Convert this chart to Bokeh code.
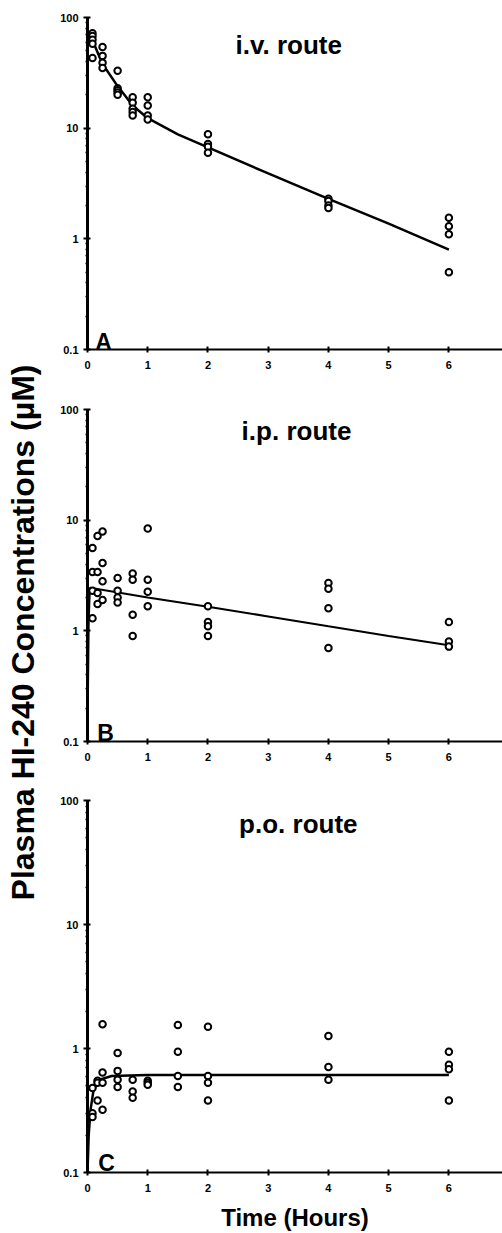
import math
from bokeh.plotting import figure
from bokeh.layouts import row, column
from bokeh.models import Range1d, FixedTicker, CustomJSTickFormatter, Label
from bokeh.embed import file_html
from bokeh.resources import INLINE

FONT = "Liberation Sans"

# ---------------- data ----------------
# Panel A: i.v. route
iv_times = [0.083, 0.25, 0.5, 0.75, 1.0, 2.0, 4.0, 6.0]
iv_conc = [
    [72, 68, 63, 58, 43],
    [54, 45, 39, 35],
    [33, 23, 22, 21, 20],
    [19, 17, 15, 14, 13],
    [19, 16, 13, 12],
    [8.8, 7.2, 6.8, 6.0],
    [2.3, 2.2, 2.0, 1.9],
    [1.55, 1.3, 1.1, 0.5],
]
iv_fit_t = [0.083, 0.25, 0.5, 0.75, 1.0, 1.5, 2.0, 3.0, 4.0, 5.0, 6.0]
iv_fit_c = [62, 38, 24, 16, 12.3, 8.8, 6.7, 3.9, 2.3, 1.37, 0.8]

# Panel B: i.p. route
ip_times = [0.083, 0.167, 0.25, 0.5, 0.75, 1.0, 2.0, 4.0, 6.0]
ip_conc = [
    [5.6, 3.4, 2.3, 1.3],
    [7.2, 3.4, 2.2, 1.75],
    [7.9, 4.1, 2.8, 1.9],
    [3.0, 2.3, 2.0, 1.8],
    [3.3, 2.9, 1.4, 0.9],
    [8.4, 2.9, 2.25, 1.67],
    [1.67, 1.2, 1.1, 0.9],
    [2.7, 2.4, 1.6, 0.7],
    [1.2, 0.8, 0.72],
]
ip_fit_t = [0.0, 0.02, 0.04, 1.0, 2.0, 3.0, 4.0, 5.0, 6.0]
ip_fit_c = [0.1, 1.2, 2.45, 2.0, 1.65, 1.35, 1.1, 0.9, 0.74]

# Panel C: p.o. route
po_times = [0.083, 0.167, 0.25, 0.5, 0.75, 1.0, 1.5, 2.0, 4.0, 6.0]
po_conc = [
    [0.48, 0.3, 0.28],
    [0.55, 0.53, 0.38],
    [1.57, 0.64, 0.53, 0.32],
    [0.92, 0.66, 0.56, 0.49],
    [0.56, 0.45, 0.40],
    [0.55, 0.53, 0.51],
    [1.55, 0.94, 0.6, 0.49],
    [1.5, 0.6, 0.53, 0.38],
    [1.26, 0.71, 0.56],
    [0.94, 0.74, 0.68, 0.38],
]
po_fit_t = [0.0, 0.02, 0.05, 0.1, 0.2, 0.4, 1.0, 6.0]
po_fit_c = [0.1, 0.2, 0.32, 0.46, 0.56, 0.6, 0.61, 0.61]

x_ticks = [0, 1, 2, 3, 4, 5, 6]
y_ticks = [0.1, 1, 10, 100]
y_minor = [m * d for d in (0.1, 1, 10) for m in range(2, 10)]

titles = ["i.v. route", "i.p. route", "p.o. route"]
letters = ["A", "B", "C"]
y_label = "Plasma HI-240 Concentrations (\u00b5M)"
x_label = "Time (Hours)"

LEFT_W = 44
MAIN_W = 502 - LEFT_W
FRAME_LEFT = 87


def flatten(times, conc):
    xs, ys = [], []
    for t, vals in zip(times, conc):
        for v in vals:
            xs.append(t)
            ys.append(v)
    return xs, ys


def panel(times, conc, fit_t, fit_c, title, title_pos, letter, letter_pos,
          height, top, bottom, line_w, with_xlabel=False):
    p = figure(width=MAIN_W, height=height, y_axis_type="log",
               x_range=Range1d(0, 6.89), y_range=Range1d(0.1, 100),
               output_backend="svg", toolbar_location=None,
               min_border_left=FRAME_LEFT - LEFT_W, min_border_right=0,
               min_border_top=top, min_border_bottom=bottom)
    p.outline_line_color = None
    p.grid.visible = False
    p.background_fill_color = "white"
    p.border_fill_color = "white"

    xs, ys = flatten(times, conc)
    p.line(fit_t, fit_c, line_color="black", line_width=line_w)
    p.scatter(xs, ys, marker="circle", size=6.5, line_width=2,
              line_color="black", fill_color="white")

    xa = p.xaxis[0]
    xa.ticker = FixedTicker(ticks=x_ticks)
    xa.axis_line_width = 2
    xa.axis_line_color = "black"
    xa.major_tick_in = 3
    xa.major_tick_out = 3
    xa.minor_tick_line_color = None
    xa.major_tick_line_width = 2
    xa.major_label_standoff = 8
    xa.major_label_text_font = FONT
    xa.major_label_text_font_style = "bold"
    xa.major_label_text_font_size = "11px"
    xa.major_label_text_color = "black"
    if with_xlabel:
        xa.axis_label = x_label
        xa.axis_label_text_font = FONT
        xa.axis_label_text_font_style = "bold"
        xa.axis_label_text_font_size = "24px"
        xa.axis_label_text_color = "black"
        xa.axis_label_standoff = 9

    ya = p.yaxis[0]
    ya.ticker = FixedTicker(ticks=y_ticks, minor_ticks=y_minor)
    ya.formatter = CustomJSTickFormatter(
        code="return tick >= 1 ? tick.toFixed(0) : tick.toFixed(1);")
    ya.axis_line_width = 3
    ya.axis_line_color = "black"
    ya.major_tick_in = 3
    ya.major_tick_out = 4
    ya.major_tick_line_width = 2
    ya.minor_tick_in = 1
    ya.minor_tick_out = 2
    ya.minor_tick_line_width = 1.5
    ya.major_label_standoff = 5
    ya.major_label_text_font = FONT
    ya.major_label_text_font_style = "bold"
    ya.major_label_text_font_size = "11px"
    ya.major_label_text_color = "black"

    p.add_layout(Label(x=title_pos[0], y=title_pos[1], text=title,
                       text_align="center", text_baseline="middle",
                       text_font=FONT, text_font_style="bold",
                       text_font_size="26px", text_color="black"))
    p.add_layout(Label(x=letter_pos[0], y=letter_pos[1], text=letter,
                       text_align="left", text_baseline="alphabetic",
                       text_font=FONT, text_font_style="bold",
                       text_font_size="23px", text_color="black"))
    return p


pA = panel(iv_times, iv_conc, iv_fit_t, iv_fit_c, titles[0], (3.34, 56),
           letters[0], (0.13, 0.116), 390, 17, 41, 2.5)
pB = panel(ip_times, ip_conc, ip_fit_t, ip_fit_c, titles[1], (3.47, 64),
           letters[1], (0.16, 0.12), 390, 19, 39, 2)
pC = panel(po_times, po_conc, po_fit_t, po_fit_c, titles[2], (3.5, 65),
           letters[2], (0.18, 0.12), 453, 20, 60, 2.5, with_xlabel=True)

# left strip carrying the shared y-axis title
pL = figure(width=LEFT_W, height=1233, x_range=Range1d(0, LEFT_W),
            y_range=Range1d(0, 1233), output_backend="svg",
            toolbar_location=None, min_border=0)
pL.axis.visible = False
pL.grid.visible = False
pL.outline_line_color = None
pL.border_fill_color = "white"
pL.add_layout(Label(x=22, y=1233 - 632, text=y_label, angle=math.pi / 2,
                    text_align="center", text_baseline="middle",
                    text_font=FONT, text_font_style="bold",
                    text_font_size="32px", text_color="black"))

layout = row(pL, column(pA, pB, pC))

open("out.html", "w").write(file_html(layout, INLINE))
